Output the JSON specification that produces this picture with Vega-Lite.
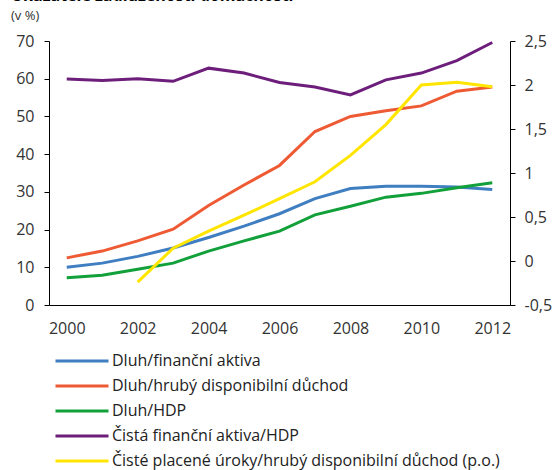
{
  "$schema": "https://vega.github.io/schema/vega-lite/v6.json",
  "width": 461,
  "height": 264,
  "autosize": {"type": "none"},
  "padding": {"left": 49, "top": 41, "right": 46, "bottom": 165},
  "background": "white",
  "title": {
    "text": "Ukazatele zadluženosti domácností",
    "subtitle": "(v %)",
    "anchor": "start",
    "frame": "group",
    "dx": -38,
    "offset": 10,
    "fontSize": 16,
    "fontWeight": "bold",
    "font": "Open Sans",
    "color": "#000000",
    "subtitleFont": "Open Sans",
    "subtitleFontSize": 13,
    "subtitleColor": "#333333",
    "subtitlePadding": 6
  },
  "config": {
    "view": {"stroke": null},
    "axis": {
      "labelFont": "Open Sans",
      "labelFontSize": 16,
      "labelColor": "#333333",
      "domainColor": "#000000",
      "tickColor": "#000000",
      "grid": false,
      "title": null
    }
  },
  "data": {
    "values": [
      {"year": 2000, "series": "Dluh/finanční aktiva", "side": "L", "value": 10.0},
      {"year": 2001, "series": "Dluh/finanční aktiva", "side": "L", "value": 11.1},
      {"year": 2002, "series": "Dluh/finanční aktiva", "side": "L", "value": 12.9},
      {"year": 2003, "series": "Dluh/finanční aktiva", "side": "L", "value": 15.1},
      {"year": 2004, "series": "Dluh/finanční aktiva", "side": "L", "value": 17.9},
      {"year": 2005, "series": "Dluh/finanční aktiva", "side": "L", "value": 20.9},
      {"year": 2006, "series": "Dluh/finanční aktiva", "side": "L", "value": 24.2},
      {"year": 2007, "series": "Dluh/finanční aktiva", "side": "L", "value": 28.2},
      {"year": 2008, "series": "Dluh/finanční aktiva", "side": "L", "value": 30.9},
      {"year": 2009, "series": "Dluh/finanční aktiva", "side": "L", "value": 31.5},
      {"year": 2010, "series": "Dluh/finanční aktiva", "side": "L", "value": 31.5},
      {"year": 2011, "series": "Dluh/finanční aktiva", "side": "L", "value": 31.3},
      {"year": 2012, "series": "Dluh/finanční aktiva", "side": "L", "value": 30.6},
      {"year": 2000, "series": "Dluh/hrubý disponibilní důchod", "side": "L", "value": 12.5},
      {"year": 2001, "series": "Dluh/hrubý disponibilní důchod", "side": "L", "value": 14.3},
      {"year": 2002, "series": "Dluh/hrubý disponibilní důchod", "side": "L", "value": 17.0},
      {"year": 2003, "series": "Dluh/hrubý disponibilní důchod", "side": "L", "value": 20.1},
      {"year": 2004, "series": "Dluh/hrubý disponibilní důchod", "side": "L", "value": 26.4},
      {"year": 2005, "series": "Dluh/hrubý disponibilní důchod", "side": "L", "value": 31.8},
      {"year": 2006, "series": "Dluh/hrubý disponibilní důchod", "side": "L", "value": 37.0},
      {"year": 2007, "series": "Dluh/hrubý disponibilní důchod", "side": "L", "value": 46.0},
      {"year": 2008, "series": "Dluh/hrubý disponibilní důchod", "side": "L", "value": 50.0},
      {"year": 2009, "series": "Dluh/hrubý disponibilní důchod", "side": "L", "value": 51.5},
      {"year": 2010, "series": "Dluh/hrubý disponibilní důchod", "side": "L", "value": 52.8},
      {"year": 2011, "series": "Dluh/hrubý disponibilní důchod", "side": "L", "value": 56.7},
      {"year": 2012, "series": "Dluh/hrubý disponibilní důchod", "side": "L", "value": 57.8},
      {"year": 2000, "series": "Dluh/HDP", "side": "L", "value": 7.2},
      {"year": 2001, "series": "Dluh/HDP", "side": "L", "value": 7.9},
      {"year": 2002, "series": "Dluh/HDP", "side": "L", "value": 9.5},
      {"year": 2003, "series": "Dluh/HDP", "side": "L", "value": 11.1},
      {"year": 2004, "series": "Dluh/HDP", "side": "L", "value": 14.3},
      {"year": 2005, "series": "Dluh/HDP", "side": "L", "value": 17.0},
      {"year": 2006, "series": "Dluh/HDP", "side": "L", "value": 19.6},
      {"year": 2007, "series": "Dluh/HDP", "side": "L", "value": 23.9},
      {"year": 2008, "series": "Dluh/HDP", "side": "L", "value": 26.2},
      {"year": 2009, "series": "Dluh/HDP", "side": "L", "value": 28.6},
      {"year": 2010, "series": "Dluh/HDP", "side": "L", "value": 29.6},
      {"year": 2011, "series": "Dluh/HDP", "side": "L", "value": 31.1},
      {"year": 2012, "series": "Dluh/HDP", "side": "L", "value": 32.4},
      {"year": 2000, "series": "Čistá finanční aktiva/HDP", "side": "L", "value": 59.9},
      {"year": 2001, "series": "Čistá finanční aktiva/HDP", "side": "L", "value": 59.5},
      {"year": 2002, "series": "Čistá finanční aktiva/HDP", "side": "L", "value": 60.0},
      {"year": 2003, "series": "Čistá finanční aktiva/HDP", "side": "L", "value": 59.3},
      {"year": 2004, "series": "Čistá finanční aktiva/HDP", "side": "L", "value": 62.8},
      {"year": 2005, "series": "Čistá finanční aktiva/HDP", "side": "L", "value": 61.5},
      {"year": 2006, "series": "Čistá finanční aktiva/HDP", "side": "L", "value": 59.0},
      {"year": 2007, "series": "Čistá finanční aktiva/HDP", "side": "L", "value": 57.8},
      {"year": 2008, "series": "Čistá finanční aktiva/HDP", "side": "L", "value": 55.7},
      {"year": 2009, "series": "Čistá finanční aktiva/HDP", "side": "L", "value": 59.7},
      {"year": 2010, "series": "Čistá finanční aktiva/HDP", "side": "L", "value": 61.5},
      {"year": 2011, "series": "Čistá finanční aktiva/HDP", "side": "L", "value": 64.8},
      {"year": 2012, "series": "Čistá finanční aktiva/HDP", "side": "L", "value": 69.6},
      {"year": 2002, "series": "Čisté placené úroky/hrubý disponibilní důchod (p.o.)", "side": "R", "value": -0.24},
      {"year": 2003, "series": "Čisté placené úroky/hrubý disponibilní důchod (p.o.)", "side": "R", "value": 0.145},
      {"year": 2004, "series": "Čisté placené úroky/hrubý disponibilní důchod (p.o.)", "side": "R", "value": 0.34},
      {"year": 2005, "series": "Čisté placené úroky/hrubý disponibilní důchod (p.o.)", "side": "R", "value": 0.52},
      {"year": 2006, "series": "Čisté placené úroky/hrubý disponibilní důchod (p.o.)", "side": "R", "value": 0.71},
      {"year": 2007, "series": "Čisté placené úroky/hrubý disponibilní důchod (p.o.)", "side": "R", "value": 0.9},
      {"year": 2008, "series": "Čisté placené úroky/hrubý disponibilní důchod (p.o.)", "side": "R", "value": 1.2},
      {"year": 2009, "series": "Čisté placené úroky/hrubý disponibilní důchod (p.o.)", "side": "R", "value": 1.55},
      {"year": 2010, "series": "Čisté placené úroky/hrubý disponibilní důchod (p.o.)", "side": "R", "value": 2.0},
      {"year": 2011, "series": "Čisté placené úroky/hrubý disponibilní důchod (p.o.)", "side": "R", "value": 2.03},
      {"year": 2012, "series": "Čisté placené úroky/hrubý disponibilní důchod (p.o.)", "side": "R", "value": 1.98}
    ]
  },
  "encoding": {
    "x": {
      "field": "year",
      "type": "quantitative",
      "scale": {"domain": [1999.5, 2012.5], "nice": false, "zero": false},
      "axis": {
        "values": [2000, 2002, 2004, 2006, 2008, 2010, 2012],
        "format": "d",
        "ticks": false,
        "labelPadding": 15,
        "labelFlush": false,
        "labelOverlap": false
      }
    },
    "color": {
      "field": "series",
      "type": "nominal",
      "scale": {
        "domain": [
          "Dluh/finanční aktiva",
          "Dluh/hrubý disponibilní důchod",
          "Dluh/HDP",
          "Čistá finanční aktiva/HDP",
          "Čisté placené úroky/hrubý disponibilní důchod (p.o.)"
        ],
        "range": ["#3F7EC0", "#EE5A33", "#12A03A", "#6D1E7B", "#FFE500"]
      },
      "legend": {
        "orient": "none",
        "legendX": 25,
        "legendY": 312,
        "title": null,
        "direction": "vertical",
        "symbolType": "M-5.3,0H5.3",
        "symbolSize": 100,
        "symbolStrokeWidth": 3,
        "labelFont": "Open Sans",
        "labelFontSize": 16,
        "labelColor": "#222222",
        "labelOffset": 22,
        "labelLimit": 500,
        "rowPadding": 9,
        "padding": 0
      }
    }
  },
  "layer": [
    {
      "transform": [{"filter": "datum.side === 'L'"}],
      "mark": {"type": "line", "strokeWidth": 3},
      "encoding": {
        "y": {
          "field": "value",
          "type": "quantitative",
          "scale": {"domain": [0, 70], "nice": false},
          "axis": {
            "orient": "left",
            "values": [0, 10, 20, 30, 40, 50, 60, 70],
            "tickSize": 5,
            "labelPadding": 10
          }
        }
      }
    },
    {
      "transform": [{"filter": "datum.side === 'R'"}],
      "mark": {"type": "line", "strokeWidth": 3},
      "encoding": {
        "y": {
          "field": "value",
          "type": "quantitative",
          "scale": {"domain": [-0.5, 2.5], "nice": false, "zero": false},
          "axis": {
            "orient": "right",
            "values": [-0.5, 0, 0.5, 1, 1.5, 2, 2.5],
            "labelExpr": "replace(replace(format(datum.value, '~g'), '.', ','), '−', '-')",
            "tickSize": 5,
            "labelPadding": 9
          }
        }
      }
    }
  ],
  "resolve": {"scale": {"y": "independent"}}
}
